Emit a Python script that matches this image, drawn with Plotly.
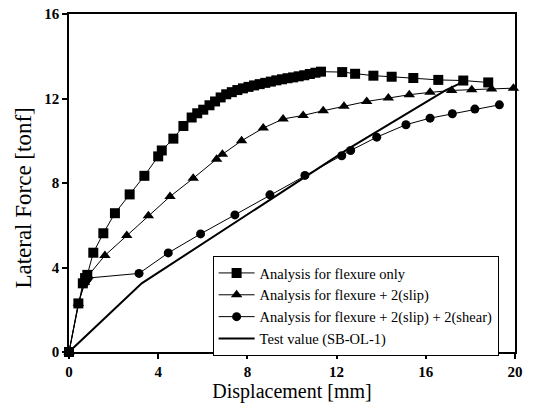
import plotly.graph_objects as go

# Analysis for flexure only (squares)
sq_x = [0, 0.42, 0.62, 0.72, 0.82, 1.09, 1.54, 2.06, 2.72, 3.38, 4.0, 4.16, 4.68, 5.13, 5.5,
        5.75, 6.02, 6.3, 6.55, 6.8, 7.05, 7.3, 7.55, 7.8, 8.05, 8.3, 8.55, 8.8, 9.05, 9.3,
        9.55, 9.8, 10.05, 10.3, 10.55, 10.8, 11.05, 11.3, 12.25, 12.83, 13.65, 14.47, 15.44,
        16.56, 17.68, 18.8]
sq_y = [0, 2.3, 3.25, 3.5, 3.65, 4.7, 5.62, 6.57, 7.46, 8.34, 9.26, 9.54, 10.1, 10.7, 11.1,
        11.3, 11.47, 11.68, 11.86, 12.05, 12.2, 12.3, 12.4, 12.48, 12.55, 12.62, 12.68, 12.74,
        12.8, 12.86, 12.91, 12.96, 13.0, 13.05, 13.1, 13.16, 13.22, 13.27, 13.25, 13.17, 13.08,
        13.03, 12.97, 12.88, 12.85, 12.76]

# Analysis for flexure + 2(slip) (triangles)
tri_x = [0, 0.42, 0.7, 0.85, 1.61, 2.59, 3.56, 4.53, 5.57, 6.62, 6.88, 7.74, 8.71, 9.6, 10.5,
         11.4, 12.33, 13.35, 14.32, 15.26, 16.19, 17.16, 18.06, 18.95, 19.93]
tri_y = [0, 2.3, 3.3, 3.6, 4.57, 5.52, 6.45, 7.36, 8.22, 9.13, 9.36, 10.0, 10.6, 11.03, 11.2,
         11.42, 11.63, 11.86, 12.02, 12.18, 12.29, 12.38, 12.42, 12.45, 12.49]

# Analysis for flexure + 2(slip) + 2(shear) (circles)
ci_x = [0, 0.42, 0.72, 0.85, 3.14, 4.45, 5.9, 7.44, 9.01, 10.58, 12.23, 12.63, 13.8, 15.11,
        16.19, 17.19, 18.2, 19.3]
ci_y = [0, 2.3, 3.3, 3.5, 3.72, 4.69, 5.59, 6.49, 7.44, 8.36, 9.29, 9.54, 10.17, 10.76,
        11.07, 11.28, 11.5, 11.7]

# Test value (SB-OL-1)
tv_x = [0, 3.26, 12.5, 16.9, 17.7]
tv_y = [0, 3.25, 9.6, 12.4, 12.8]

x_ticks = [0, 4, 8, 12, 16, 20]
y_ticks = [0, 4, 8, 12, 16]

names = ["Analysis for flexure only",
         "Analysis for flexure + 2(slip)",
         "Analysis for flexure + 2(slip) + 2(shear)",
         "Test value (SB-OL-1)"]
x_title = "Displacement [mm]"
y_title = "Lateral Force [tonf]"

SERIF = "Liberation Serif, Times New Roman, serif"

fig = go.Figure()
fig.add_trace(go.Scatter(x=sq_x, y=sq_y, name=names[0], mode="lines+markers",
                         line=dict(color="black", width=1),
                         marker=dict(symbol="square", size=10, color="black"),
                         cliponaxis=False))
fig.add_trace(go.Scatter(x=tri_x, y=tri_y, name=names[1], mode="lines+markers",
                         line=dict(color="black", width=1),
                         marker=dict(symbol="triangle-up", size=10, color="black"),
                         cliponaxis=False))
fig.add_trace(go.Scatter(x=ci_x, y=ci_y, name=names[2], mode="lines+markers",
                         line=dict(color="black", width=1),
                         marker=dict(symbol="circle", size=9, color="black"),
                         cliponaxis=False))
fig.add_trace(go.Scatter(x=tv_x, y=tv_y, name=names[3], mode="lines",
                         line=dict(color="black", width=2),
                         cliponaxis=False))

fig.update_layout(
    width=535, height=412,
    margin=dict(l=69, r=20, t=14, b=60),
    paper_bgcolor="white", plot_bgcolor="white",
    font=dict(family=SERIF, color="black"),
    showlegend=True,
    legend=dict(x=0.322, y=0.284, xanchor="left", yanchor="top",
                bgcolor="white", bordercolor="black", borderwidth=1,
                font=dict(family=SERIF, size=14.5, color="black"),
                tracegroupgap=0, itemwidth=36),
    xaxis=dict(range=[0, 20], tickvals=x_ticks, ticktext=[str(v) for v in x_ticks],
               showgrid=False, zeroline=False, showline=True, linecolor="black",
               linewidth=1.5, mirror=True, ticks="outside", ticklen=5, tickcolor="black",
               tickwidth=1.5, ticklabeloverflow="allow",
               tickfont=dict(family=SERIF, size=15, color="black", weight="bold"),
               title=dict(text=x_title, standoff=2,
                          font=dict(family=SERIF, size=20, color="black")),
               automargin=False),
    yaxis=dict(range=[0, 16], tickvals=y_ticks, ticktext=[str(v) for v in y_ticks],
               showgrid=False, zeroline=False, showline=True, linecolor="black",
               linewidth=1.5, mirror=True, ticks="outside", ticklen=5, tickcolor="black",
               tickwidth=1.5, ticklabeloverflow="allow",
               tickfont=dict(family=SERIF, size=15, color="black", weight="bold"),
               automargin=False),
    annotations=[dict(text=y_title, xref="paper", yref="paper", x=-0.103, y=0.454,
                      xanchor="center", yanchor="middle", textangle=-90, showarrow=False,
                      font=dict(family=SERIF, size=23, color="black"))],
)

fig.write_html("out.html", config={"displayModeBar": False},
               post_script="document.body.style.margin='0';document.body.style.overflow='hidden';")
